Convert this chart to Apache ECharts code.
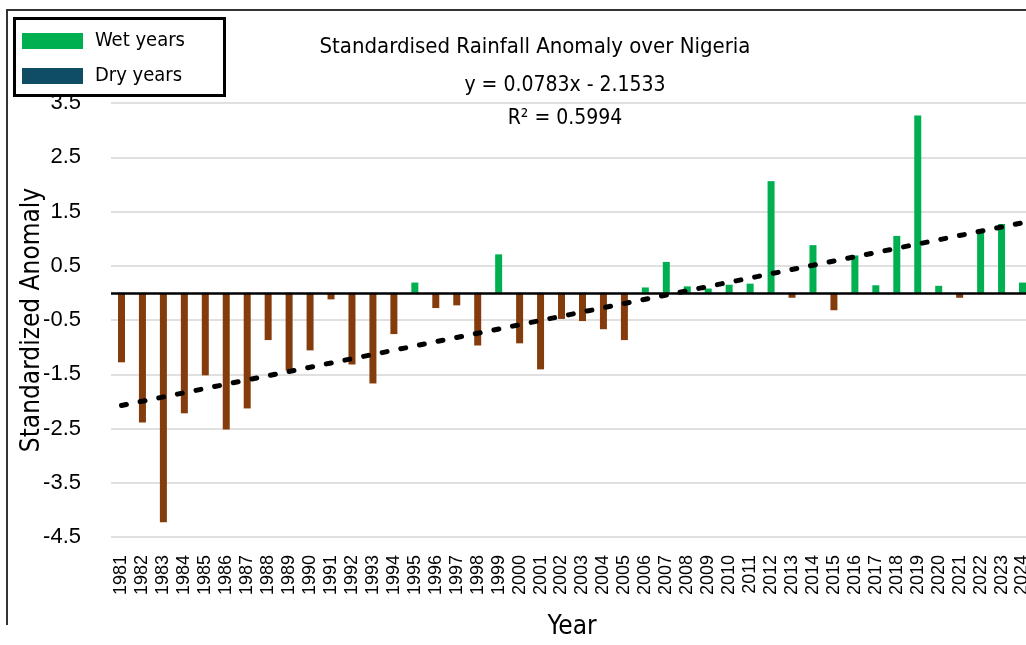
<!DOCTYPE html>
<html>
<head>
<meta charset="utf-8">
<script src="https://cdn.jsdelivr.net/npm/echarts@6/dist/echarts.min.js"></script>
<style>
html,body{margin:0;padding:0;background:#fff;}
#chart{width:1026px;height:645px;}
</style>
</head>
<body>
<div id="chart"></div>
<script>
const years = ['1981','1982','1983','1984','1985','1986','1987','1988','1989','1990','1991','1992','1993','1994','1995','1996','1997','1998','1999','2000','2001','2002','2003','2004','2005','2006','2007','2008','2009','2010','2011','2012','2013','2014','2015','2016','2017','2018','2019','2020','2021','2022','2023','2024'];
const anomaly = [-1.28,-2.39,-4.23,-2.22,-1.52,-2.52,-2.13,-0.87,-1.43,-1.06,-0.12,-1.32,-1.67,-0.76,0.19,-0.28,-0.23,-0.97,0.71,-0.93,-1.41,-0.48,-0.52,-0.67,-0.87,0.10,0.57,0.12,0.08,0.15,0.17,2.06,-0.09,0.88,-0.32,0.69,0.14,1.05,3.27,0.13,-0.09,1.11,1.27,0.19];
const trendEnds = [-2.075, 1.292];
const titleText = 'Standardised Rainfall Anomaly over Nigeria';
const equationText = 'y = 0.0783x - 2.1533';
const r2Text = 'R\u00B2 = 0.5994';

const wet = anomaly.map(v => v > 0 ? v : null);
const dry = anomaly.map(v => v <= 0 ? v : null);
const trend = years.map((y, i) => i === 0 ? trendEnds[0] : (i === years.length - 1 ? trendEnds[1] : null));

const narrow = '"Liberation Sans Narrow", "DejaVu Sans Condensed", "Liberation Sans", sans-serif';
const chart = echarts.init(document.getElementById('chart'), null, {renderer: 'canvas'});
chart.setOption({
  animation: false,
  backgroundColor: '#fff',
  grid: {left: 111, top: 103, right: -7, height: 434, containLabel: false, outerBoundsMode: 'none'},
  title: {
    text: titleText, left: 530, top: 31, textAlign: 'center',
    textStyle: {fontFamily: narrow, fontSize: 22, fontWeight: 'normal', color: '#000'}
  },
  legend: {
    data: [
      {name: 'Wet years', itemStyle: {color: '#00B050'}},
      {name: 'Dry years', itemStyle: {color: '#0E4D64'}}
    ],
    orient: 'vertical', left: 22, top: 31, itemWidth: 61, itemHeight: 16, itemGap: 15,
    icon: 'rect', z: 20, padding: 0,
    textStyle: {fontFamily: narrow, fontSize: 20, lineHeight: 16, color: '#000', padding: [0, 0, 0, 7]}
  },
  graphic: [
    {type: 'rect', z: 15, shape: {x: 14.5, y: 18.5, width: 210, height: 77},
     style: {fill: '#fff', stroke: '#000', lineWidth: 3}},
    {type: 'polyline', z: 15, shape: {points: [[7, 625], [7, 10], [1030, 10]]},
     style: {fill: null, stroke: '#333', lineWidth: 2}},
    {type: 'text', z: 15, x: 565, y: 86, style: {text: equationText, textAlign: 'center', textVerticalAlign: 'middle', font: '21px ' + narrow, fill: '#000'}},
    {type: 'text', z: 15, x: 565, y: 119, style: {text: r2Text, textAlign: 'center', textVerticalAlign: 'middle', font: '21px ' + narrow, fill: '#000'}}
  ],
  xAxis: {
    type: 'category', data: years,
    name: 'Year', nameLocation: 'middle', nameGap: 77, nameMoveOverlap: false,
    nameTextStyle: {fontFamily: narrow, fontSize: 26, color: '#000'},
    axisLine: {show: false}, axisTick: {show: false},
    axisLabel: {rotate: 90, interval: 0, margin: 18, fontFamily: '"Liberation Sans", Arial, sans-serif', fontSize: 18, color: '#000'},
    splitLine: {show: false}
  },
  yAxis: {
    type: 'value', min: -4.5, max: 3.5, interval: 1,
    name: 'Standardized Anomaly', nameLocation: 'middle', nameGap: 66, nameRotate: 90, nameMoveOverlap: false,
    nameTextStyle: {fontFamily: narrow, fontSize: 26, color: '#000'},
    axisLine: {show: false}, axisTick: {show: false},
    axisLabel: {margin: 30, fontFamily: '"Liberation Sans", Arial, sans-serif', fontSize: 22, color: '#000',
      formatter: v => v.toFixed(1)},
    splitLine: {lineStyle: {color: '#e0e0e0', width: 2}}
  },
  series: [
    {name: 'Wet years', type: 'bar', stack: 'a', data: wet, barWidth: 7,
     itemStyle: {color: '#00B050'},
     markLine: {silent: true, symbol: 'none', label: {show: false},
       lineStyle: {color: '#000', width: 2.5, type: 'solid'}, data: [{yAxis: 0}]}},
    {name: 'Dry years', type: 'bar', stack: 'a', data: dry, barWidth: 7,
     itemStyle: {color: '#843C0C'}},
    {name: 'Trend', type: 'line', data: trend, connectNulls: true, symbol: 'none', z: 5,
     lineStyle: {color: '#000', width: 5, type: [5, 14], cap: 'round'}}
  ]
});
</script>
</body>
</html>
